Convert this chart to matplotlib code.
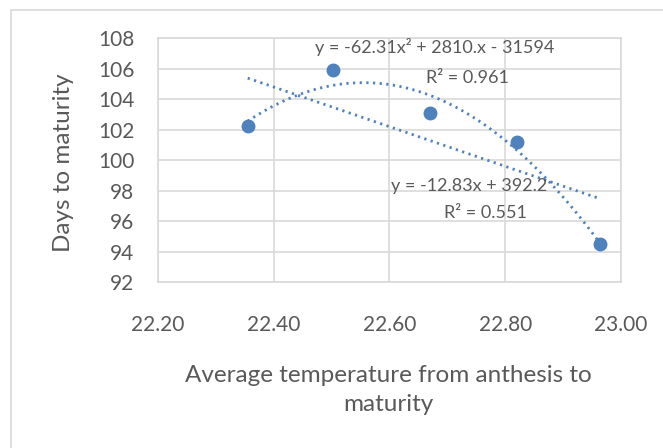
import numpy as np
import matplotlib
matplotlib.use("Agg")
import matplotlib.pyplot as plt
from matplotlib.patches import Rectangle

# data
temp = [22.355, 22.502, 22.670, 22.820, 22.963]
days = [102.2, 105.9, 103.1, 101.2, 94.5]

x_ticks = [22.20, 22.40, 22.60, 22.80, 23.00]
y_ticks = [92, 94, 96, 98, 100, 102, 104, 106, 108]

quad_label = "y = -62.31x² + 2810.x - 31594"
quad_r2 = "R² = 0.961"
lin_label = "y = -12.83x + 392.2"
lin_r2 = "R² = 0.551"

blue = "#4F81BD"
grey_txt = "#595959"
grid_c = "#D9D9D9"

plt.rcParams['font.family'] = ['Lato', 'DejaVu Sans']

fig = plt.figure(figsize=(6.63, 4.48), dpi=100)
fig.patches.append(Rectangle((11 / 663, -0.1), 1.2, 0.1 + 1 - 10 / 448,
                             transform=fig.transFigure, fill=False,
                             edgecolor="#D9D9D9", linewidth=1.2))

ax = fig.add_axes([158 / 663, 1 - 282 / 448, (621 - 158) / 663, (282 - 38) / 448])

# trendlines fitted from the points
xs = np.linspace(min(temp), max(temp), 100)
lin = np.polyfit(temp, days, 1)
quad = np.polyfit(temp, days, 2)
ax.plot(xs, np.polyval(lin, xs), linestyle=(0, (0.8, 1.6)), color=blue, lw=2.0)
ax.plot(xs, np.polyval(quad, xs), linestyle=(0, (0.8, 1.6)), color=blue, lw=2.0)
ax.plot(temp, days, 'o', color=blue, markersize=9, zorder=5)

ax.set_xlim(22.20, 23.00)
ax.set_ylim(92, 108)
ax.set_xticks(x_ticks)
ax.set_xticklabels(["%.2f" % v for v in x_ticks])
ax.set_yticks(y_ticks)
ax.grid(True, color=grid_c, linewidth=1.2)
ax.set_axisbelow(True)
for s in ax.spines.values():
    s.set_color(grid_c)
    s.set_linewidth(1.2)
ax.tick_params(length=0, labelsize=15, colors=grey_txt)
ax.tick_params(axis='y', pad=17)
ax.tick_params(axis='x', pad=24)

fs = 13
ax.text(22.678, 107.4, quad_label, ha='center', va='center', fontsize=fs, color=grey_txt)
ax.text(22.735, 105.4, quad_r2, ha='center', va='center', fontsize=fs, color=grey_txt)
ax.text(22.737, 98.3, lin_label, ha='center', va='center', fontsize=fs, color=grey_txt)
ax.text(22.765, 96.5, lin_r2, ha='center', va='center', fontsize=fs, color=grey_txt)

fig.text(63 / 663, 1 - 163 / 448, "Days to maturity", rotation=90,
         ha='center', va='center', fontsize=17.5, color=grey_txt)
fig.text(388 / 663, 1 - 390 / 448, "Average temperature from anthesis to\nmaturity",
         ha='center', va='center', fontsize=17.5, color=grey_txt, linespacing=1.45)

fig.savefig("out.png", dpi=100)
